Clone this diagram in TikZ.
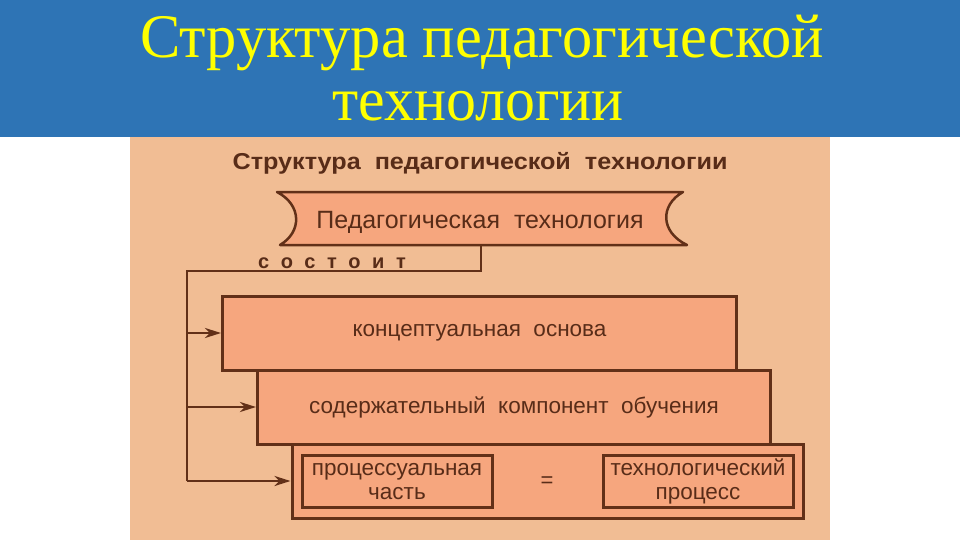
\documentclass[tikz,border=0pt]{standalone}
\usepackage{fontspec}
\usepackage{graphicx}
\setmainfont{Liberation Serif}
\setsansfont{Liberation Sans}
\newfontfamily\spacedfont[LetterSpace=58]{Liberation Sans}
\usetikzlibrary{arrows.meta}
\definecolor{bannerblue}{RGB}{46,116,181}
\definecolor{titleyellow}{RGB}{255,255,0}
\definecolor{panelbeige}{RGB}{241,189,148}
\definecolor{boxsalmon}{RGB}{246,166,126}
\definecolor{linebrown}{RGB}{98,48,24}
\definecolor{textbrown}{RGB}{88,44,24}
\tikzset{
  layerbox/.style={draw=linebrown, line width=3pt, fill=boxsalmon, minimum width=#1, minimum height=74pt, inner sep=0pt,
    font=\sffamily\fontsize{22.5}{24}\selectfont, text=textbrown},
  innerbox/.style={draw=linebrown, line width=3pt, fill=boxsalmon, minimum width=190pt, minimum height=52pt, inner sep=0pt,
    align=center, font=\sffamily\fontsize{22.5}{24}\selectfont, text=textbrown},
  conn/.style={draw=linebrown, line width=2.5pt},
  arr/.style={conn, -{Stealth[length=16pt,width=10pt,inset=5pt]}},
  titletext/.style={anchor=base, text=titleyellow, font=\fontsize{62}{62}\selectfont, inner sep=0pt},
}
\begin{document}
\begin{tikzpicture}[x=1pt,y=-1pt]
\useasboundingbox (0,0) rectangle (960,540);
\fill[white] (0,0) rectangle (960,540);
\fill[bannerblue] (0,0) rectangle (960,137);
\fill[panelbeige] (130,137) rectangle (830,540);
% title
\node[titletext] (t1) at (482,58) {\scalebox{0.975}[1]{Структура педагогической}};
\node[titletext] (t2) at (478,121) {\scalebox{0.965}[1]{технологии}};
% header
\node[text=textbrown, font=\sffamily\bfseries\fontsize{23}{26}\selectfont, inner sep=0pt] (hdr) at (480,163) {\scalebox{1.095}[1]{Структура\ \ педагогической\ \ технологии}};
% ribbon
\filldraw[draw=linebrown, line width=2.5pt, fill=boxsalmon, line join=round]
  (277,192) -- (683,192) .. controls (660,205) and (660,232) .. (687,245)
  -- (280,245) .. controls (302,232) and (302,205) .. (277,192) -- cycle;
\node[text=textbrown, font=\sffamily\fontsize{25}{28}\selectfont, inner sep=0pt, anchor=base] (rib) at (480,228) {Педагогическая\ \ технология};
\coordinate (ribbot) at (481,245);
\node[text=textbrown, font=\spacedfont\bfseries\fontsize{20}{22}\selectfont, inner sep=0pt, anchor=base west] (sost) at (258,268) {состоит};
% boxes
\node[layerbox=514pt] (b1) at (479.5,333) {концептуальная\ \ основа};
\node[layerbox=513pt] (b2) at (514,407) {содержательный\ \ компонент\ \ обучения};
\node[layerbox=511pt] (b3) at (547.5,481) {};
\node[innerbox] (p1) at (397,481.5) {процессуальная\\часть};
\node[innerbox] (p2) at (698,481.5) {технологический\\процесс};
\node[text=textbrown, font=\sffamily\fontsize{22}{24}\selectfont, inner sep=0pt] (eq) at (547,482) {=};
% connectors
\coordinate (j) at (187,271);
\draw[conn] (ribbot) |- (j) -- (j |- b3.west);
\draw[arr] (j |- b1.west) -- (b1.west);
\draw[arr] (j |- b2.west) -- (b2.west);
\draw[arr] (j |- b3.west) -- (b3.west);
\end{tikzpicture}
\end{document}
